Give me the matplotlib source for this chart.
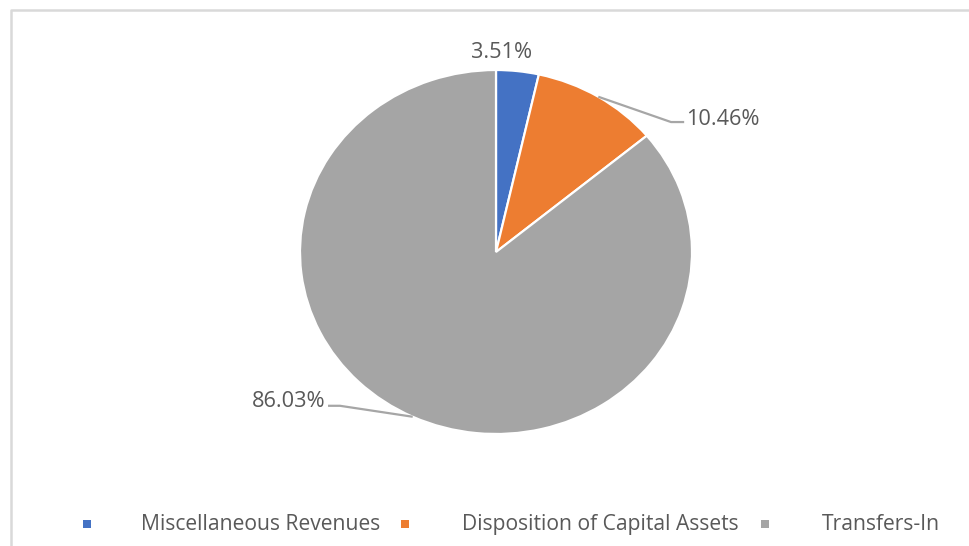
import numpy as np
import matplotlib
matplotlib.use('Agg')
import matplotlib.pyplot as plt
from matplotlib.lines import Line2D
from matplotlib.patches import Rectangle

# ── data ────────────────────────────────────────────────────────────────────
categories = ['Miscellaneous Revenues', 'Disposition of Capital Assets', 'Transfers-In']
shares = [3.51, 10.46, 86.03]
colors = ['#4472C4', '#ED7D31', '#A5A5A5']

TEXT = '#595959'
LEADER = '#A6A6A6'
plt.rcParams['font.family'] = ['Open Sans', 'DejaVu Sans']

W, H = 969, 546
fig = plt.figure(figsize=(W / 100, H / 100), dpi=100, facecolor='white')

# pie box in pixels (the picture is slightly stretched horizontally)
cx, cy, rx, ry = 496, 252, 196, 182
xl, yl = 1.5, 1.3
ax = fig.add_axes([(cx - rx * xl) / W, (H - cy - ry * yl) / H,
                   2 * rx * xl / W, 2 * ry * yl / H])

wedges, _ = ax.pie(shares, colors=colors, startangle=90, counterclock=False,
                   radius=1, wedgeprops=dict(edgecolor='white', linewidth=1.6))
ax.set_aspect('auto')
ax.set_xlim(-xl, xl)
ax.set_ylim(-yl, yl)
ax.axis('off')

# ── data labels ─────────────────────────────────────────────────────────────
# (elbow, text anchor, ha) per slice; None = no leader line
label_layout = [
    (None, (0.026, 1.066), 'center'),
    ((0.893, 0.714), (0.97, 0.698), 'left'),
    ((-0.796, -0.845), (-0.872, -0.85), 'right'),
]
cum = np.cumsum([0] + shares[:-1])
for w, share, start, (elbow, pos, ha) in zip(wedges, shares, cum, label_layout):
    ang = np.deg2rad(90 - (start + share / 2) * 3.6)
    if elbow is not None:
        px, py = np.cos(ang), np.sin(ang)
        end_x = pos[0] - 0.01 if ha == 'left' else pos[0] + 0.015
        ax.plot([px, elbow[0], end_x], [py, elbow[1], elbow[1]],
                color=LEADER, lw=1.6, solid_capstyle='butt', clip_on=False)
    ax.text(pos[0], pos[1], f'{share:.2f}%', ha=ha, va='baseline',
            fontsize=15.7, color=TEXT)

# ── legend (Excel style, manual placement) ─────────────────────────────────
marker_x = [86.7, 405, 765]
text_x = [140.7, 462, 822]
leg_y = 530
for name, col, mx, tx in zip(categories, colors, marker_x, text_x):
    fig.add_artist(Rectangle(((mx - 4) / W, (H - 528) / H), 8 / W, 8 / H,
                             transform=fig.transFigure, facecolor=col,
                             edgecolor='none'))
    fig.text(tx / W, (H - leg_y) / H, name, ha='left', va='baseline',
             fontsize=15.2, color=TEXT)

# chart area border (top and left edges visible)
fig.add_artist(Line2D([10.5 / W, 10.5 / W, 968 / W], [0, (H - 9.5) / H, (H - 9.5) / H],
                      transform=fig.transFigure, color='#D9D9D9', lw=1.8))

fig.savefig('out.png', dpi=100, facecolor='white')
